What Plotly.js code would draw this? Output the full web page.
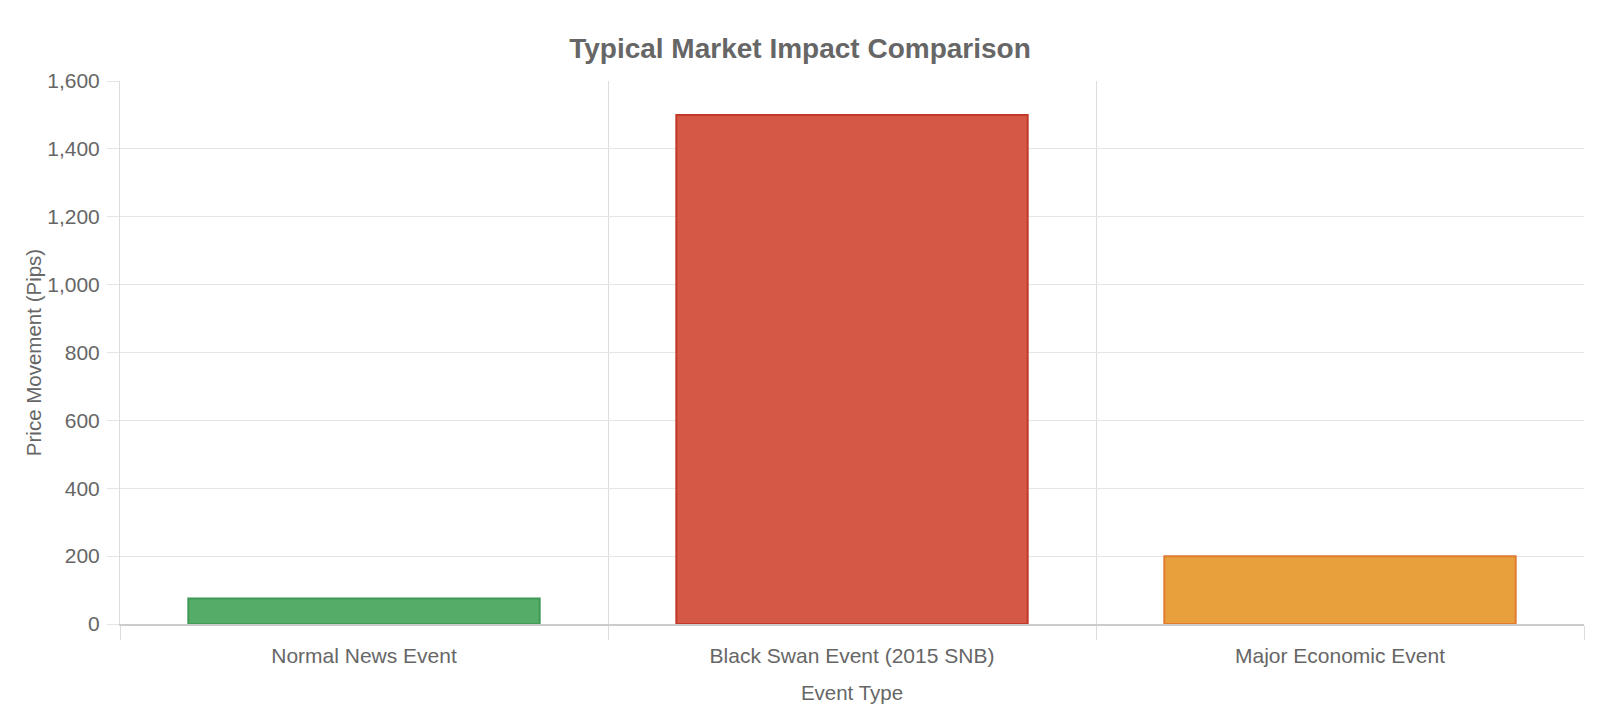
<!DOCTYPE html>
<html>
<head>
<meta charset="utf-8">
<script src="https://cdn.plot.ly/plotly-3.0.1.min.js"></script>
<style>
  html, body { margin: 0; padding: 0; background: #fff; }
  #impact-chart { width: 1600px; height: 716px; }
</style>
</head>
<body>
<div id="impact-chart"></div>
<script>
var eventTypes = ['Normal News Event', 'Black Swan Event (2015 SNB)', 'Major Economic Event'];
var pipMoves = [75, 1500, 200];
var yTicks = [0, 200, 400, 600, 800, 1000, 1200, 1400, 1600];

var fillColours = ['#55ab68', '#d55746', '#e8a03d'];
var lineColours = ['#3f9a55', '#c0392b', '#e07b2f'];

var trace1 = {
    x: eventTypes,
    y: pipMoves,
    type: 'bar',
    width: 0.72,
    marker: {
        color: fillColours,
        line: { color: lineColours, width: 2 }
    },
    hoverinfo: 'x+y'
};

var data = [trace1];

var layout = {
    font: {
        family: '"Liberation Sans", Arial, sans-serif',
        size: 21,
        color: '#666'
    },
    title: {
        text: '<b>Typical Market Impact Comparison</b>',
        font: { size: 28, color: '#666' },
        x: 0.5,
        y: 0.932,
        yanchor: 'middle'
    },
    margin: { l: 120, r: 16, t: 81, b: 92 },
    xaxis: {
        type: 'category',
        tickson: 'boundaries',
        ticks: 'outside',
        ticklen: 14,
        tickcolor: '#ddd',
        ticklabelstandoff: 12,
        showgrid: true,
        gridcolor: '#ddd',
        showline: true,
        linecolor: '#ccc',
        linewidth: 1.5,
        title: { text: 'Event Type', font: { size: 20.5, color: '#666' }, standoff: 20 }
    },
    yaxis: {
        range: [0, 1600],
        tickvals: yTicks,
        tickformat: ',',
        ticks: 'outside',
        ticklen: 12,
        tickcolor: '#e5e5e5',
        ticklabelstandoff: 3,
        gridcolor: '#e5e5e5',
        zeroline: false,
        showline: true,
        linecolor: '#ddd',
        title: { text: 'Price Movement (Pips)', font: { size: 20.5, color: '#666' }, standoff: 0 }
    },
    plot_bgcolor: '#fff',
    paper_bgcolor: '#fff',
    showlegend: false
};

var config = { displayModeBar: false, responsive: false };

Plotly.newPlot('impact-chart', data, layout, config);
</script>
</body>
</html>
